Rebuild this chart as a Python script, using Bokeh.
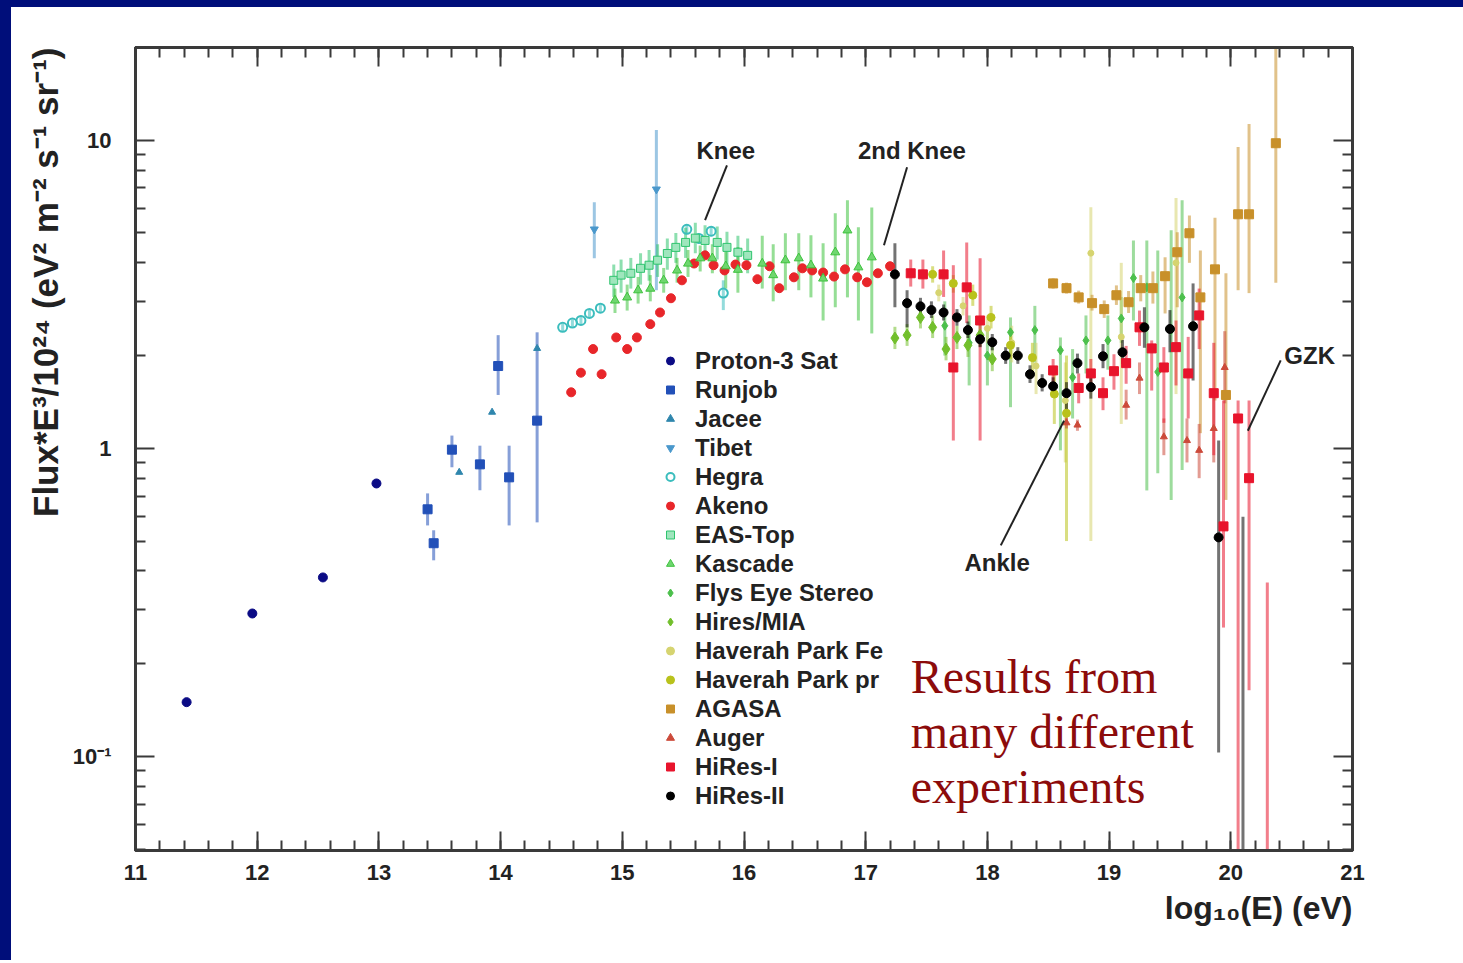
from bokeh.plotting import figure
from bokeh.models import (ColumnDataSource, LinearAxis, LogAxis, FixedTicker,
                          SingleIntervalTicker, Range1d, Legend, LegendItem, Label,
                          Title, Div, CustomJSTickFormatter)
from bokeh.layouts import column, row
from bokeh.embed import file_html
from bokeh.resources import INLINE

# ---------------- data: log10(E/eV), Flux*E^3/1e24, error-bar low / high ----------------
proton3_x = [11.42, 11.96, 12.54, 12.98]
proton3_y = [0.150, 0.291, 0.381, 0.769]

runjob_x = [13.40, 13.45, 13.60, 13.83, 13.98, 14.07, 14.30]
runjob_y = [0.634, 0.492, 0.990, 0.887, 1.85, 0.805, 1.23]
runjob_lo = [0.562, 0.433, 0.868, 0.731, 1.49, 0.562, 0.575]
runjob_hi = [0.714, 0.542, 1.10, 1.02, 2.33, 1.02, 2.38]

jacee_x = [13.66, 13.93, 14.30]
jacee_y = [0.836, 1.31, 2.11]

tibet_x = [14.77, 15.28]
tibet_y = [5.14, 6.93]
tibet_lo = [4.14, 3.26]
tibet_hi = [6.29, 10.8]

hegra_x = [14.51, 14.59, 14.66, 14.73, 14.82, 15.53, 15.63, 15.73, 15.83]
hegra_y = [2.47, 2.55, 2.60, 2.74, 2.85, 5.14, 4.80, 5.07, 3.19]
hegra_lo = [2.40, 2.48, 2.53, 2.66, 2.77, 4.95, 4.62, 4.88, 2.81]
hegra_hi = [2.54, 2.62, 2.67, 2.82, 2.93, 5.34, 4.98, 5.27, 3.51]

akeno_x = [14.58, 14.66, 14.76, 14.83, 14.95, 15.04, 15.12, 15.23, 15.31, 15.40,
           15.49, 15.59, 15.68, 15.75, 15.84, 15.93, 16.02, 16.11, 16.21, 16.29,
           16.41, 16.48, 16.56, 16.65, 16.74, 16.83, 16.93, 17.01, 17.10, 17.20]
akeno_y = [1.52, 1.76, 2.10, 1.74, 2.29, 2.10, 2.29, 2.53, 2.76, 3.07,
           3.51, 3.98, 4.23, 3.93, 3.78, 3.95, 3.93, 3.54, 3.90, 3.31,
           3.59, 3.84, 3.78, 3.72, 3.61, 3.81, 3.59, 3.46, 3.70, 3.90]

eastop_x = [14.93, 14.99, 15.07, 15.15, 15.22, 15.29, 15.37, 15.44, 15.52, 15.60,
            15.68, 15.78, 15.86, 15.95, 16.03]
eastop_y = [3.51, 3.65, 3.70, 3.84, 3.93, 4.08, 4.29, 4.49, 4.66, 4.81,
            4.73, 4.66, 4.49, 4.33, 4.23]
eastop_lo = [3.10, 3.20, 3.30, 3.40, 3.50, 3.60, 3.80, 4.00, 4.15, 4.30,
             4.20, 4.10, 3.95, 3.80, 3.70]
eastop_hi = [3.95, 4.10, 4.15, 4.30, 4.40, 4.60, 4.80, 5.00, 5.20, 5.40,
             5.30, 5.25, 5.05, 4.90, 4.80]

kascade_x = [14.94, 15.04, 15.13, 15.23, 15.34, 15.45, 15.54, 15.64, 15.74, 15.85,
             15.95, 16.15, 16.24, 16.34, 16.45, 16.55, 16.65, 16.75, 16.85, 16.94, 17.05]
kascade_y = [3.02, 3.09, 3.26, 3.30, 3.51, 3.78, 3.98, 4.14, 4.14, 3.90,
             3.80, 3.98, 3.65, 4.08, 4.14, 3.93, 3.56, 4.33, 5.10, 3.87, 4.17]
kascade_lo = [2.75, 2.80, 2.95, 3.00, 3.20, 3.45, 3.60, 3.75, 3.70, 3.30,
              3.20, 3.30, 3.00, 3.26, 3.26, 3.09, 2.60, 2.87, 3.09, 2.60, 2.36]
kascade_hi = [3.30, 3.40, 3.60, 3.65, 3.85, 4.15, 4.40, 4.55, 4.60, 4.60,
              4.50, 4.90, 4.60, 4.99, 4.99, 4.92, 4.63, 5.79, 6.38, 5.22, 6.05]

flys_x = [17.65, 17.85, 18.00, 18.19, 18.39, 18.60, 18.70, 18.81, 18.99, 19.10,
          19.20, 19.31, 19.40, 19.51, 19.60]
flys_y = [2.50, 2.20, 2.00, 2.38, 2.42, 2.08, 1.70, 2.24, 2.24, 2.64,
          3.57, 3.33, 1.77, 2.42, 3.09]
flys_lo = [2.00, 1.60, 1.60, 1.36, 1.90, 0.985, 1.25, 1.75, 1.80, 2.20,
           2.60, 0.73, 0.83, 0.68, 0.85]
flys_hi = [3.00, 2.70, 2.50, 2.66, 2.90, 2.29, 2.10, 2.70, 2.70, 3.10,
           4.73, 4.73, 4.39, 5.10, 6.38]

hiresmia_x = [17.24, 17.34, 17.45, 17.55, 17.66, 17.75, 17.84, 17.94, 18.04]
hiresmia_y = [2.28, 2.33, 2.66, 2.47, 2.10, 2.29, 2.16, 2.33, 1.95]
hiresmia_lo = [2.10, 2.15, 2.45, 2.28, 1.93, 2.10, 1.98, 2.14, 1.78]
hiresmia_hi = [2.48, 2.53, 2.90, 2.70, 2.30, 2.50, 2.36, 2.55, 2.15]

hpfe_x = [17.60, 17.80, 18.00, 18.20, 18.40, 18.64, 18.85, 19.10, 19.55]
hpfe_y = [3.20, 2.90, 2.45, 2.20, 1.85, 1.43, 4.30, 2.30, 4.00]
hpfe_lo = [3.00, 2.70, 2.20, 1.90, 1.50, 0.90, 0.50, 1.20, 1.50]
hpfe_hi = [3.40, 3.10, 2.70, 2.50, 2.20, 1.90, 6.06, 4.00, 6.50]

hppr_x = [17.55, 17.72, 17.88, 18.03, 18.19, 18.37, 18.55, 18.65]
hppr_y = [3.67, 3.43, 3.14, 2.66, 2.16, 1.97, 1.50, 1.30]
hppr_lo = [3.45, 3.20, 2.90, 2.45, 1.95, 1.75, 1.20, 0.50]
hppr_hi = [3.90, 3.65, 3.40, 2.90, 2.40, 2.20, 1.85, 2.00]

agasa_x = [18.54, 18.65, 18.75, 18.86, 18.96, 19.06, 19.16, 19.26, 19.36, 19.46,
           19.56, 19.66, 19.75, 19.87, 19.96, 20.06, 20.15, 20.37]
agasa_y = [3.43, 3.31, 3.09, 2.96, 2.83, 3.14, 2.98, 3.31, 3.31, 3.62,
           4.33, 4.99, 3.09, 3.81, 1.49, 5.75, 5.75, 9.78]
agasa_lo = [3.30, 3.18, 2.95, 2.80, 2.65, 2.92, 2.75, 3.00, 2.95, 2.74,
            2.87, 4.00, 1.12, 1.43, 0.68, 3.26, 3.19, 3.45]
agasa_hi = [3.56, 3.45, 3.25, 3.15, 3.02, 3.38, 3.24, 3.65, 3.75, 4.17,
            5.03, 5.70, 4.39, 5.60, 3.70, 9.50, 11.3, 25.0]

auger_x = [18.65, 18.74, 19.14, 19.25, 19.45, 19.64, 19.74, 19.86, 19.95]
auger_y = [1.21, 1.19, 1.38, 1.69, 1.09, 1.06, 0.985, 1.16, 1.83]
auger_lo = [1.16, 1.14, 1.24, 1.50, 0.95, 0.90, 0.80, 0.90, 1.40]
auger_hi = [1.26, 1.24, 1.55, 1.90, 1.25, 1.25, 1.20, 1.50, 2.40]

hires1_x = [17.37, 17.47, 17.64, 17.72, 17.83, 17.94, 18.54, 18.75, 18.85, 18.95,
            19.04, 19.14, 19.25, 19.35, 19.45, 19.55, 19.65, 19.74, 19.86, 19.94,
            20.06, 20.15, 20.30]
hires1_y = [3.70, 3.67, 3.67, 1.83, 3.33, 2.60, 1.79, 1.57, 1.75, 1.51,
            1.78, 1.89, 2.47, 2.11, 1.83, 2.13, 1.75, 2.70, 1.51, 0.558,
            1.25, 0.80, 0.03]
hires1_lo = [3.35, 3.30, 3.10, 1.06, 2.55, 1.06, 1.63, 1.40, 1.56, 1.33,
             1.55, 1.62, 2.15, 1.54, 1.21, 1.60, 1.25, 2.10, 0.95, 0.262,
             0.03, 0.164, 0.03]
hires1_hi = [4.10, 4.10, 4.39, 3.93, 4.66, 4.14, 1.95, 1.75, 1.95, 1.70,
             2.02, 2.15, 2.80, 2.24, 2.13, 2.60, 2.30, 3.30, 2.20, 1.43,
             1.43, 1.43, 0.367]

hires2_x = [17.24, 17.34, 17.45, 17.54, 17.64, 17.75, 17.84, 17.94, 18.04, 18.15,
            18.25, 18.35, 18.45, 18.54, 18.65, 18.74, 18.85, 18.95, 19.11, 19.29,
            19.50, 19.69, 19.90, 20.10]
hires2_y = [3.67, 2.96, 2.89, 2.81, 2.76, 2.66, 2.42, 2.26, 2.21, 2.00,
            2.00, 1.74, 1.63, 1.59, 1.51, 1.89, 1.58, 1.99, 2.05, 2.47,
            2.44, 2.49, 0.514, 0.03]
hires2_lo = [2.87, 2.47, 2.70, 2.65, 2.60, 2.50, 2.28, 2.13, 2.08, 1.88,
             1.88, 1.63, 1.53, 1.48, 1.30, 1.75, 1.45, 1.82, 1.88, 2.12,
             2.05, 1.66, 0.103, 0.03]
hires2_hi = [4.63, 3.26, 3.08, 3.00, 2.93, 2.83, 2.58, 2.40, 2.35, 2.13,
             2.13, 1.86, 1.74, 1.70, 1.64, 2.03, 1.72, 2.18, 2.25, 2.87,
             2.81, 3.43, 1.06, 0.60]

# ticks
x_major_interval = 1
y_major_ticks = [0.1, 1, 10]
y_minor_ticks = [0.05, 0.06, 0.07, 0.08, 0.09, 0.2, 0.3, 0.4, 0.5, 0.6, 0.7, 0.8, 0.9,
                 2, 3, 4, 5, 6, 7, 8, 9, 20]
y_tick_labels = {0.1: "10⁻¹", 1: "1", 10: "10"}

# series: name, marker, line colour, fill colour, size, x, y, lo, hi
SERIES = [
    ("Proton-3 Sat", "circle", "#0b0b85", "#0b0b85", 9, proton3_x, proton3_y, None, None),
    ("Runjob", "square", "#2250b8", "#2250b8", 9, runjob_x, runjob_y, runjob_lo, runjob_hi),
    ("Jacee", "triangle", "#2f86ad", "#2f86ad", 7, jacee_x, jacee_y, None, None),
    ("Tibet", "inverted_triangle", "#4a98cc", "#4a98cc", 8, tibet_x, tibet_y, tibet_lo, tibet_hi),
    ("Hegra", "circle", "#3bbdbd", None, 9, hegra_x, hegra_y, hegra_lo, hegra_hi),
    ("Akeno", "circle", "#e8262a", "#e8262a", 9, akeno_x, akeno_y, None, None),
    ("EAS-Top", "square", "#2fc46e", "#9fe6bd", 8, eastop_x, eastop_y, eastop_lo, eastop_hi),
    ("Kascade", "triangle", "#3ec23e", "#6fd66f", 9, kascade_x, kascade_y, kascade_lo, kascade_hi),
    ("Flys Eye Stereo", "diamond", "#4cc04c", "#4cc04c", 9, flys_x, flys_y, flys_lo, flys_hi),
    ("Hires/MIA", "diamond", "#72bf2c", "#72bf2c", 12, hiresmia_x, hiresmia_y, hiresmia_lo, hiresmia_hi),
    ("Haverah Park Fe", "circle", "#d6d470", "#d6d470", 6, hpfe_x, hpfe_y, hpfe_lo, hpfe_hi),
    ("Haverah Park pr", "circle", "#b9c21c", "#b9c21c", 8, hppr_x, hppr_y, hppr_lo, hppr_hi),
    ("AGASA", "square", "#c8902a", "#c8902a", 9, agasa_x, agasa_y, agasa_lo, agasa_hi),
    ("Auger", "triangle", "#cc4a3a", "#cc4a3a", 7, auger_x, auger_y, auger_lo, auger_hi),
    ("HiRes-I", "square", "#e8142c", "#e8142c", 9, hires1_x, hires1_y, hires1_lo, hires1_hi),
    ("HiRes-II", "circle", "#000000", "#000000", 9, hires2_x, hires2_y, hires2_lo, hires2_hi),
]

BLUE = "#000e7a"
AXC = "#3a3a3a"

p = figure(width=1449, height=953, x_range=Range1d(11, 21), y_range=Range1d(0.0495, 20.0),
           y_axis_type="log", x_axis_location=None, y_axis_location=None,
           output_backend="svg", toolbar_location=None,
           min_border_left=124, min_border_right=108, min_border_top=40, min_border_bottom=110)
p.title.visible = False
p.grid.grid_line_color = None
p.outline_line_color = AXC
p.outline_line_width = 3
p.background_fill_color = "white"
p.border_fill_color = "white"

blank = CustomJSTickFormatter(code="return ''")


def style_axis(ax, labels):
    ax.axis_line_color = AXC
    ax.axis_line_width = 3
    ax.major_tick_line_color = AXC
    ax.major_tick_line_width = 2
    ax.minor_tick_line_color = AXC
    ax.minor_tick_line_width = 2
    ax.major_tick_in = 19
    ax.major_tick_out = 0
    ax.minor_tick_in = 10
    ax.minor_tick_out = 0
    ax.major_label_text_font = "Liberation Sans"
    ax.major_label_text_font_style = "bold"
    ax.major_label_text_font_size = "22px"
    ax.major_label_text_color = "#222222"
    if not labels:
        ax.formatter = blank
        ax.major_label_standoff = 0


bottom = LinearAxis(ticker=SingleIntervalTicker(interval=x_major_interval, num_minor_ticks=5))
style_axis(bottom, True)
bottom.major_label_standoff = 14
p.add_layout(bottom, "below")

top = LinearAxis(ticker=SingleIntervalTicker(interval=x_major_interval, num_minor_ticks=5))
style_axis(top, False)
p.add_layout(top, "above")

left = LogAxis(ticker=FixedTicker(ticks=y_major_ticks, minor_ticks=y_minor_ticks),
               major_label_overrides=y_tick_labels)
style_axis(left, True)
left.major_label_standoff = 24
p.add_layout(left, "left")

right = LogAxis(ticker=FixedTicker(ticks=y_major_ticks, minor_ticks=y_minor_ticks))
style_axis(right, False)
p.add_layout(right, "right")

p.add_layout(Title(text="Flux*E³/10²⁴ (eV² m⁻² s⁻¹ sr⁻¹)", align="right",
                   text_font="Liberation Sans", text_font_style="bold",
                   text_font_size="35px", text_color="#222222"), "left")
p.add_layout(Title(text="log₁₀(E) (eV)", align="right",
                   text_font="Liberation Sans", text_font_style="bold",
                   text_font_size="32px", text_color="#222222"), "below")

# error bars first
for name, marker, lc, fc, size, xs, ys, lo, hi in SERIES:
    if lo is not None:
        src = ColumnDataSource(dict(x=xs, lo=lo, hi=hi))
        p.segment(x0="x", y0="lo", x1="x", y1="hi", source=src,
                  line_color=lc, line_alpha=0.55, line_width=3)

items = []
for name, marker, lc, fc, size, xs, ys, lo, hi in SERIES:
    src = ColumnDataSource(dict(x=xs, y=ys))
    r = p.scatter(x="x", y="y", source=src, marker=marker, size=size,
                  line_color=lc, fill_color=fc, line_width=2 if fc is None else 1)
    items.append(LegendItem(label=name, renderers=[r]))

legend = Legend(items=items, location=(525, 40), padding=0, margin=0, spacing=0,
                glyph_width=20, glyph_height=29, label_height=29, label_standoff=15,
                label_text_font="Liberation Sans", label_text_font_style="bold",
                label_text_font_size="24px", label_text_color="#222222",
                border_line_color=None, background_fill_alpha=0)
p.add_layout(legend)

# annotations
ann_text = ["Knee", "2nd Knee", "Ankle"]
ann_tx = [15.85, 17.38, 18.08]
ann_ty = [9.28, 9.28, 0.426]
for t, x, y in zip(ann_text, ann_tx, ann_ty):
    p.add_layout(Label(x=x, y=y, text=t, text_align="center", text_baseline="middle",
                       text_font="Liberation Sans", text_font_style="bold",
                       text_font_size="24px", text_color="#222222"))
p.add_layout(Label(x=20.44, y=2.0, text="GZK", text_align="left", text_baseline="middle",
                   text_font="Liberation Sans", text_font_style="bold",
                   text_font_size="24px", text_color="#222222"))

pointer_x0 = [15.86, 17.34, 18.11, 20.41]
pointer_y0 = [8.29, 8.17, 0.484, 1.93]
pointer_x1 = [15.68, 17.15, 18.63, 20.14]
pointer_y1 = [5.50, 4.56, 1.23, 1.14]
p.segment(x0=pointer_x0, y0=pointer_y0, x1=pointer_x1, y1=pointer_y1,
          line_color="#222222", line_width=2)

note_lines = ["Results from", "many different", "experiments"]
note_y = [0.182, 0.1206, 0.080]
for t, y in zip(note_lines, note_y):
    p.add_layout(Label(x=17.37, y=y, text=t, text_align="left", text_baseline="alphabetic",
                       text_font="Liberation Serif", text_font_size="48px",
                       text_color="#8c0b0b"))

top_bar = Div(text="", width=1463, height=7, margin=0, styles={"background-color": BLUE})
left_bar = Div(text="", width=11, height=953, margin=0, styles={"background-color": BLUE})
layout = column(top_bar, row(left_bar, p, spacing=0), spacing=0)

open("out.html", "w").write(file_html(layout, INLINE))
